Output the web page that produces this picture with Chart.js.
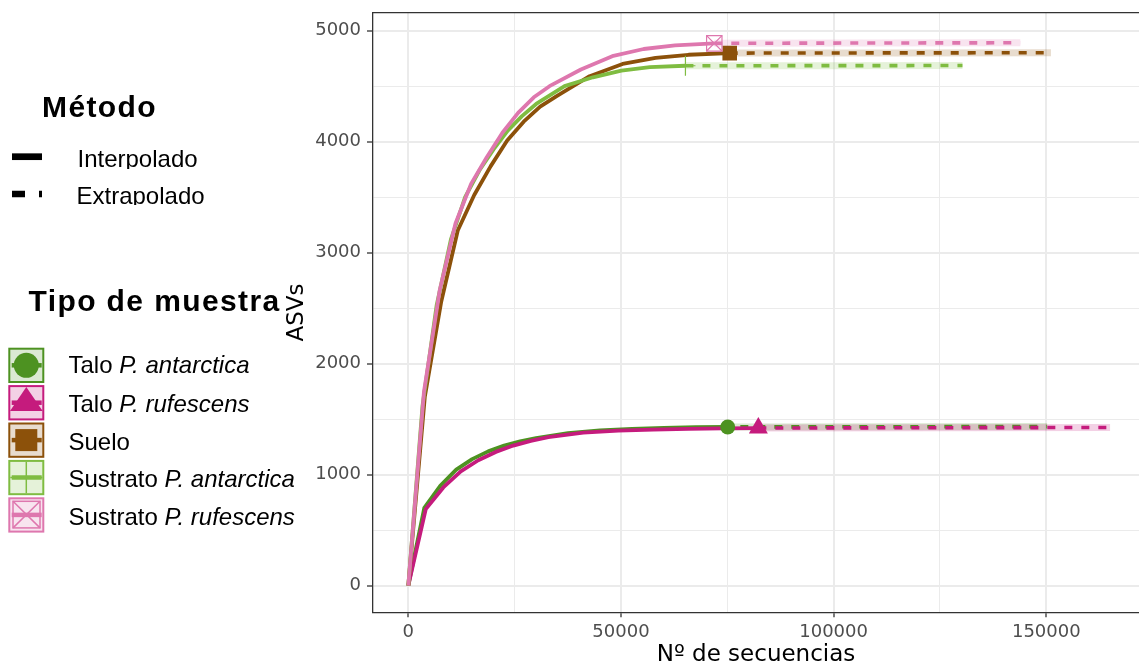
<!DOCTYPE html>
<html lang="es">
<head>
<meta charset="utf-8">
<title>Curvas de rarefacción</title>
<script src="https://cdn.jsdelivr.net/npm/chart.js@4.4.1/dist/chart.umd.min.js"></script>
<style>
  html, body { margin: 0; padding: 0; background: #fff; }
  #marco { position: relative; width: 1139px; height: 667px; overflow: hidden; }
  #grafico { position: absolute; left: 0; top: 0; }
  #claves { position: absolute; left: 0; top: 0; }
  .txt { position: absolute; font-family: "Liberation Sans", Arial, sans-serif; color: #000; white-space: nowrap; }
  .titulo { font-weight: bold; font-size: 30px; line-height: 30px; letter-spacing: 1.4px; }
  .item { font-size: 24px; line-height: 24px; }
  .cortado { overflow: hidden; height: 21.8px; }
</style>
</head>
<body>
<div id="marco">
  <canvas id="grafico" width="1139" height="667"></canvas>
  <svg id="claves" width="300" height="667"></svg>
  <div class="txt titulo" style="left:42px; top:91.9px">Método</div>
  <div class="txt item cortado" style="left:77.5px; top:147px">Interpolado</div>
  <div class="txt item cortado" style="left:76.5px; top:183.7px">Extrapolado</div>
  <div class="txt titulo" style="left:28.5px; top:286.3px">Tipo de muestra</div>
  <div id="etiquetas"></div>
</div>
<script>
// categorías y colores
const muestras = ['Talo P. antarctica', 'Talo P. rufescens', 'Suelo', 'Sustrato P. antarctica', 'Sustrato P. rufescens'];
const colores = ['#4D9221', '#C51B7D', '#8C510A', '#7FBC41', '#DE77AE'];

// ejes
const xTicks = [0, 50000, 100000, 150000];
const xGrid = [0, 25000, 50000, 75000, 100000, 125000, 150000];
const yTicks = [0, 1000, 2000, 3000, 4000, 5000];
const yGrid = [0, 500, 1000, 1500, 2000, 2500, 3000, 3500, 4000, 4500, 5000];

// Talo P. antarctica
const taloAntInterpX = [0, 3760, 7510, 11270, 15020, 18780, 22530, 26290, 30040, 37550, 45060, 52570, 60080, 67590, 75100];
const taloAntInterpY = [0, 700, 900, 1045, 1140, 1210, 1262, 1300, 1330, 1374, 1398, 1412, 1421, 1427, 1430];
const taloAntExtrapX = [75100, 112000, 150200];
const taloAntExtrapY = [1430, 1432, 1433];

// Talo P. rufescens
const taloRufInterpX = [0, 4110, 8230, 12340, 16460, 20570, 24690, 28800, 32920, 41150, 49380, 57610, 65840, 74070, 82300];
const taloRufInterpY = [0, 690, 885, 1030, 1130, 1205, 1262, 1305, 1338, 1378, 1396, 1406, 1413, 1417, 1420];
const taloRufExtrapX = [82300, 124000, 165000];
const taloRufExtrapY = [1420, 1423, 1425];

// Suelo
const sueloInterpX = [0, 3880, 7750, 11630, 15500, 19380, 23250, 27130, 31000, 34880, 42630, 50380, 58130, 65880, 75570];
const sueloInterpY = [0, 1700, 2560, 3200, 3520, 3780, 4010, 4180, 4315, 4410, 4590, 4700, 4755, 4783, 4798];
const sueloExtrapX = [75570, 113000, 151100];
const sueloExtrapY = [4798, 4800, 4801];

// Sustrato P. antarctica
const sustAntInterpX = [0, 3340, 6680, 10020, 13360, 16700, 20040, 23380, 26720, 30060, 36740, 43420, 50100, 56780, 65160];
const sustAntInterpY = [0, 1620, 2530, 3120, 3500, 3740, 3930, 4100, 4230, 4340, 4500, 4580, 4640, 4672, 4684];
const sustAntExtrapX = [65160, 98000, 130300];
const sustAntExtrapY = [4684, 4685, 4686];

// Sustrato P. rufescens
const sustRufInterpX = [0, 3690, 7380, 11070, 14760, 18450, 22130, 25820, 29510, 33200, 40580, 47960, 55340, 62720, 71940];
const sustRufInterpY = [0, 1750, 2660, 3260, 3620, 3860, 4080, 4260, 4400, 4500, 4650, 4770, 4835, 4868, 4886];
const sustRufExtrapX = [71940, 108000, 143900];
const sustRufExtrapY = [4886, 4889, 4891];

function puntos(xs, ys) {
  return xs.map((x, i) => ({ x: x, y: ys[i] }));
}

function alfa(hex, a) {
  const n = parseInt(hex.slice(1), 16);
  return `rgba(${(n >> 16) & 255},${(n >> 8) & 255},${n & 255},${a})`;
}

// fase del guion: el de Talo P. antarctica casi coincide con el de Talo P. rufescens
const grupos = [
  { interp: puntos(taloAntInterpX, taloAntInterpY), extrap: puntos(taloAntExtrapX, taloAntExtrapY), fase: 4.4, marcas: [{ estilo: 'circle', radio: 7.5, relleno: true }] },
  { interp: puntos(taloRufInterpX, taloRufInterpY), extrap: puntos(taloRufExtrapX, taloRufExtrapY), fase: 0, marcas: [{ estilo: 'triangle', radio: 11, relleno: true }] },
  { interp: puntos(sueloInterpX, sueloInterpY), extrap: puntos(sueloExtrapX, sueloExtrapY), fase: 0, marcas: [{ estilo: 'rect', radio: 10.3, relleno: true }] },
  { interp: puntos(sustAntInterpX, sustAntInterpY), extrap: puntos(sustAntExtrapX, sustAntExtrapY), fase: 0, marcas: [{ estilo: 'cross', radio: 10, relleno: false }] },
  { interp: puntos(sustRufInterpX, sustRufInterpY), extrap: puntos(sustRufExtrapX, sustRufExtrapY), fase: 0, marcas: [{ estilo: 'rect', radio: 10.9, relleno: false }, { estilo: 'crossRot', radio: 10.9, relleno: false }] }
];

const datasets = [];
grupos.forEach((g, i) => {
  const color = colores[i];
  // banda de confianza
  datasets.push({
    label: muestras[i] + ' IC', data: g.extrap, borderColor: alfa(color, 0.2), borderWidth: 7,
    borderCapStyle: 'butt', pointRadius: 0, order: 40 - i
  });
  // interpolado
  datasets.push({
    label: muestras[i], data: g.interp, borderColor: color, borderWidth: 3.8,
    borderJoinStyle: 'round', pointRadius: 0, order: 20 - i
  });
  // extrapolado
  datasets.push({
    label: muestras[i] + ' extrap.', data: g.extrap, borderColor: color, borderWidth: 3.6,
    borderDash: [8, 9], borderDashOffset: g.fase, borderCapStyle: 'butt', pointRadius: 0, order: 20 - i
  });
  // muestra observada
  g.marcas.forEach(m => {
    datasets.push({
      label: muestras[i] + ' obs.', data: [g.interp[g.interp.length - 1]], showLine: false,
      pointStyle: m.estilo, pointRadius: m.radio, pointHoverRadius: m.radio,
      pointBackgroundColor: m.relleno ? color : 'rgba(0,0,0,0)', pointBorderColor: color,
      pointBorderWidth: m.relleno ? 0 : 1.2, order: 5 - i
    });
  });
});

const bordeSuperior = {
  id: 'bordeSuperior',
  afterDraw(chart) {
    const { ctx, chartArea } = chart;
    ctx.save();
    ctx.strokeStyle = '#333333';
    ctx.lineWidth = 1.3;
    ctx.beginPath();
    ctx.moveTo(chartArea.left, chartArea.top);
    ctx.lineTo(chartArea.right, chartArea.top);
    ctx.stroke();
    ctx.restore();
  }
};

const fuenteTicksX = { family: 'DejaVu Sans', size: 18 };
const fuenteTicksY = { family: 'DejaVu Sans', size: 18, lineHeight: 0.6 };
const fuenteTitulo = { family: 'DejaVu Sans', size: 23, lineHeight: 1 };

new Chart(document.getElementById('grafico'), {
  type: 'line',
  data: { datasets: datasets },
  plugins: [bordeSuperior],
  options: {
    responsive: false,
    animation: false,
    devicePixelRatio: 1,
    layout: { autoPadding: false, padding: { left: 285.4, top: 12.7, right: 0, bottom: 0 } },
    plugins: { legend: { display: false }, tooltip: { enabled: false } },
    elements: { line: { tension: 0, fill: false } },
    scales: {
      x: {
        type: 'linear',
        min: -8300,
        max: 171800,
        afterBuildTicks: s => { s.ticks = xGrid.map(v => ({ value: v })); },
        afterFit: s => { s.height = 54.7; },
        ticks: {
          font: fuenteTicksX, color: '#4D4D4D', padding: 4, maxRotation: 0, autoSkip: false,
          callback: v => xTicks.includes(v) ? String(v) : ''
        },
        grid: {
          color: '#EBEBEB',
          lineWidth: c => xTicks.includes(c.tick.value) ? 2 : 1,
          tickLength: 5,
          tickWidth: 1.3,
          tickColor: c => xTicks.includes(c.tick.value) ? '#333333' : 'rgba(0,0,0,0)'
        },
        border: { color: '#333333', width: 1.3 },
        title: { display: true, text: 'Nº de secuencias', font: fuenteTitulo, color: '#000', padding: 0 }
      },
      y: {
        type: 'linear',
        min: -240,
        max: 5162,
        afterBuildTicks: s => { s.ticks = yGrid.map(v => ({ value: v })); },
        afterFit: s => { s.width = 87.6; },
        ticks: {
          font: fuenteTicksY, color: '#4D4D4D', padding: 6, autoSkip: false,
          callback: v => yTicks.includes(v) ? String(v) : ''
        },
        grid: {
          color: '#EBEBEB',
          lineWidth: c => yTicks.includes(c.tick.value) ? 2 : 1,
          tickLength: 6,
          tickWidth: 1.3,
          tickColor: c => yTicks.includes(c.tick.value) ? '#333333' : 'rgba(0,0,0,0)'
        },
        border: { color: '#333333', width: 1.3 },
        title: { display: true, text: 'ASVs', font: fuenteTitulo, color: '#000', padding: 0 }
      }
    }
  }
});

// leyenda: claves dibujadas en SVG, textos como HTML
const svg = document.getElementById('claves');
const NS = 'http://www.w3.org/2000/svg';
function el(tag, attrs) {
  const e = document.createElementNS(NS, tag);
  for (const k in attrs) e.setAttribute(k, attrs[k]);
  svg.appendChild(e);
  return e;
}

el('line', { x1: 12, y1: 156.7, x2: 42, y2: 156.7, stroke: '#000', 'stroke-width': 6.7 });
el('line', { x1: 12, y1: 194, x2: 42, y2: 194, stroke: '#000', 'stroke-width': 6.7, 'stroke-dasharray': '13 14' });

const topes = [347.7, 385.1, 422.5, 459.9, 497.3];
const lineasBase = [373.5, 412, 449.8, 487.3, 525];
const etiquetas = document.getElementById('etiquetas');
muestras.forEach((nombre, i) => {
  const c = colores[i];
  const t = topes[i];
  const cy = t + 17.6;
  const cx = 26.3;
  el('rect', { x: 9.3, y: t + 1, width: 34, height: 33.3, fill: alfa(c, 0.2), stroke: c, 'stroke-width': 2 });
  if (i === 3) {
    el('line', { x1: cx, y1: t + 2, x2: cx, y2: t + 33.3, stroke: c, 'stroke-width': 1.5 });
    el('line', { x1: 10.3, y1: cy, x2: 42.3, y2: cy, stroke: c, 'stroke-width': 1.5 });
  }
  el('line', { x1: 11.7, y1: cy, x2: 41.7, y2: cy, stroke: c, 'stroke-width': 4.5 });
  if (i === 0) el('circle', { cx: cx, cy: cy, r: 12.5, fill: c });
  if (i === 1) el('polygon', { points: `${cx},${t + 2} ${10},${t + 26} ${42.7},${t + 26}`, fill: c });
  if (i === 2) el('rect', { x: cx - 11, y: cy - 11, width: 22, height: 22, fill: c });
  if (i === 4) {
    el('rect', { x: 13, y: t + 4, width: 27, height: 26.6, fill: 'none', stroke: c, 'stroke-width': 1.5 });
    el('line', { x1: 13, y1: t + 4, x2: 40, y2: t + 30.6, stroke: c, 'stroke-width': 1.5 });
    el('line', { x1: 40, y1: t + 4, x2: 13, y2: t + 30.6, stroke: c, 'stroke-width': 1.5 });
  }
  const d = document.createElement('div');
  d.className = 'txt item';
  d.style.left = '68.5px';
  d.style.top = (lineasBase[i] - 20.3) + 'px';
  d.innerHTML = nombre.replace(/(P\. \w+)/, '<i>$1</i>');
  etiquetas.appendChild(d);
});
</script>
</body>
</html>
